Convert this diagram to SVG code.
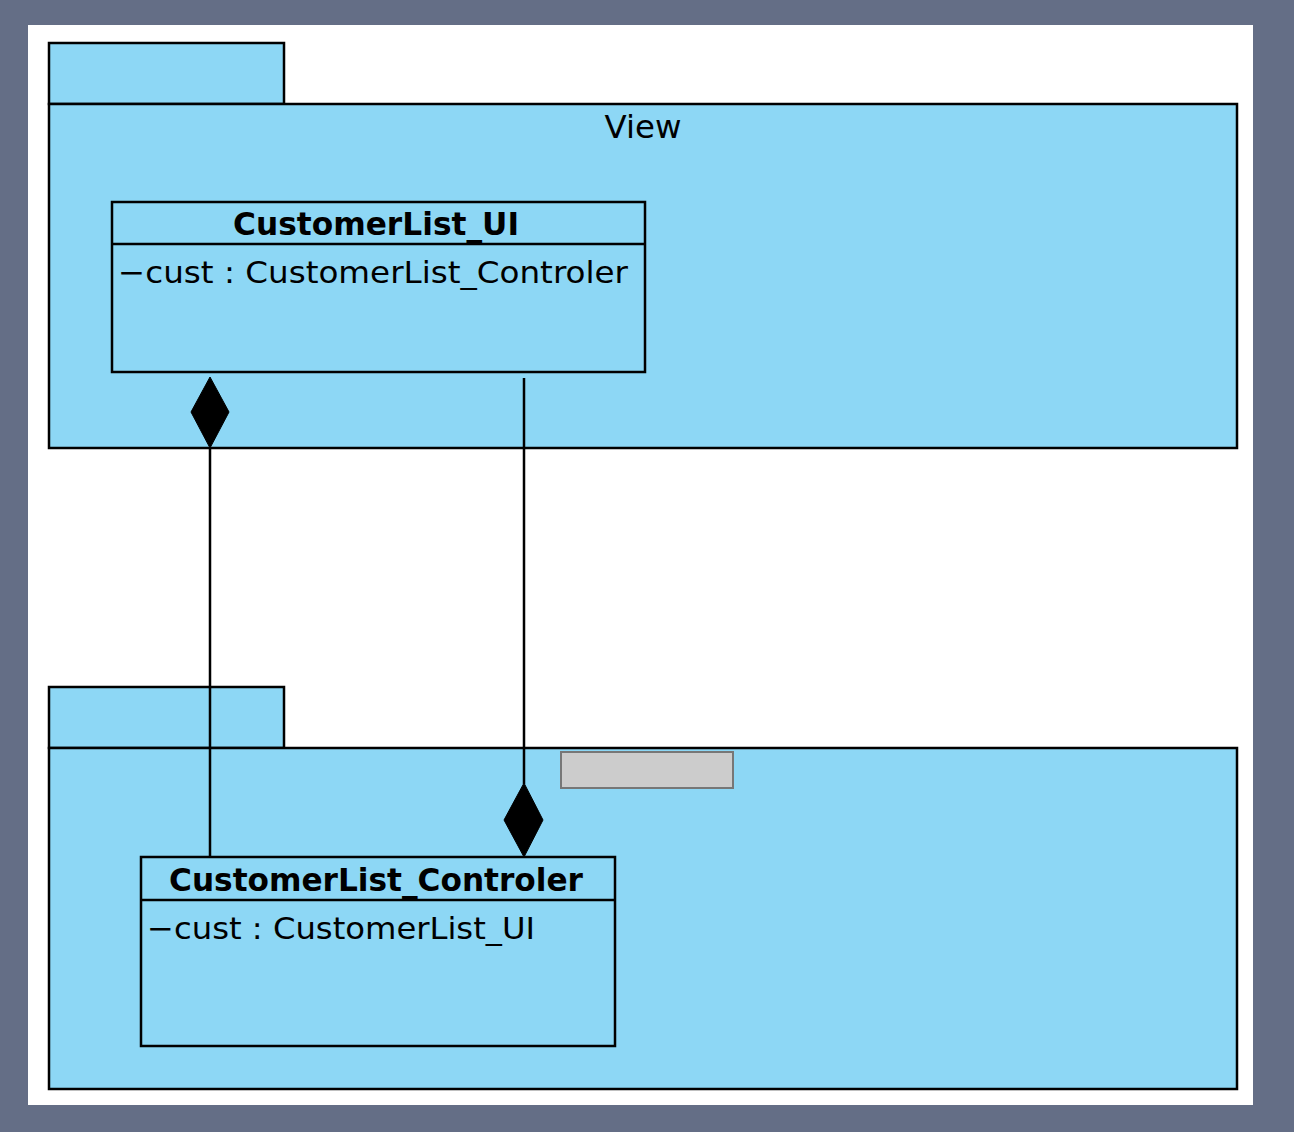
<svg xmlns="http://www.w3.org/2000/svg" width="1294" height="1132" viewBox="0 0 1294 1132">
<style>
.pkg{fill:#8dd7f5;stroke:#000;stroke-width:2.5}
.cls{fill:#8dd7f5;stroke:#000;stroke-width:2.5}
.sep{stroke:#000;stroke-width:2.5}
.title{font-family:"DejaVu Sans",sans-serif;font-weight:bold;font-size:32px;fill:#000}
.attr{font-family:"DejaVu Sans",sans-serif;font-size:31px;fill:#000}
.lbl{font-family:"DejaVu Sans",sans-serif;font-size:32px;fill:#000}
.conn{stroke:#000;stroke-width:2.5;fill:none}
.dia{fill:#000;stroke:#000;stroke-width:1}
</style>
<rect x="0" y="0" width="1294" height="1132" fill="#646e86"/>
<rect x="28" y="25" width="1225" height="1080" fill="#ffffff"/>
<g id="pkg-view">
<rect class="pkg" x="49" y="43" width="235" height="61"/>
<rect class="pkg" x="49" y="104" width="1188" height="344"/>
<text class="lbl" x="643" y="138" text-anchor="middle" textLength="77" lengthAdjust="spacingAndGlyphs">View</text>
</g>
<g id="pkg-controller">
<rect class="pkg" x="49" y="687" width="235" height="61"/>
<rect class="pkg" x="49" y="748" width="1188" height="341"/>
<rect x="561" y="752" width="172" height="36" fill="#cccccc" stroke="#777777" stroke-width="2"/>
</g>
<g id="class-ui">
<rect class="cls" x="112" y="202" width="533" height="170"/>
<line class="sep" x1="112" y1="244" x2="645" y2="244"/>
<text class="title" x="376" y="235" text-anchor="middle" textLength="286" lengthAdjust="spacingAndGlyphs">CustomerList_UI</text>
<text class="attr" x="118" y="283" textLength="510" lengthAdjust="spacingAndGlyphs">−cust : CustomerList_Controler</text>
</g>
<g id="class-controler">
<rect class="cls" x="141" y="857" width="474" height="189"/>
<line class="sep" x1="141" y1="900" x2="615" y2="900"/>
<text class="title" x="376" y="891" text-anchor="middle" textLength="414" lengthAdjust="spacingAndGlyphs">CustomerList_Controler</text>
<text class="attr" x="147" y="939" textLength="388" lengthAdjust="spacingAndGlyphs">−cust : CustomerList_UI</text>
</g>
<g id="connectors">
<line class="conn" x1="210" y1="448" x2="210" y2="857"/>
<polygon class="dia" points="210,377 229,412 210,448 191,412"/>
<line class="conn" x1="524" y1="378" x2="524" y2="784"/>
<polygon class="dia" points="524,783 543,820 524,857 504,820"/>
</g>
</svg>
